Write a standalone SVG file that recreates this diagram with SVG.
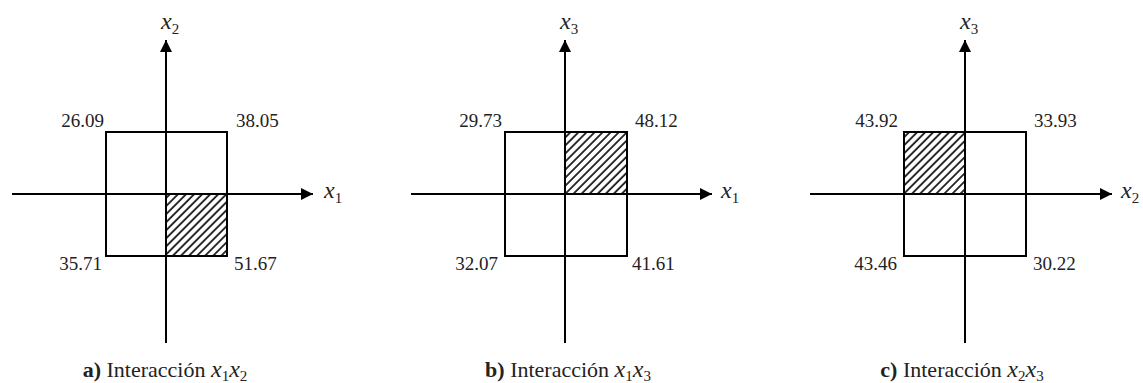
<svg xmlns="http://www.w3.org/2000/svg" width="1143" height="383" viewBox="0 0 1143 383">
<style>
.ax{stroke:#000;stroke-width:2;fill:none}
.sq{stroke:#000;stroke-width:2;fill:none}
text{font-family:'Liberation Serif','Times New Roman','DejaVu Serif',serif;fill:#222}
.num{font-size:19px}
.m{font-style:italic;font-size:24px}
.sub{font-style:normal;font-size:15px}
.cap{font-size:22px}
.capm{font-style:italic;font-size:24px}
</style>
<defs>
<marker id="arr" viewBox="0 0 12 12" refX="12" refY="6" markerWidth="12" markerHeight="12" markerUnits="userSpaceOnUse" orient="auto">
<path d="M0,0 L12,6 L0,12 Z" fill="#000"/>
</marker>
<pattern id="hatch" width="5.7" height="5.7" patternUnits="userSpaceOnUse" patternTransform="rotate(45)">
<rect width="5.7" height="5.7" fill="#fff"/>
<line x1="1" y1="0" x2="1" y2="5.7" stroke="#000" stroke-width="1.6"/>
</pattern>
</defs>
<rect width="1143" height="383" fill="#fff"/>

<g id="panel-a">
<rect x="166" y="194" width="61" height="62" fill="url(#hatch)"/>
<rect class="sq" x="106" y="132" width="121" height="124"/>
<text class="num" x="104" y="127" text-anchor="end">26.09</text>
<text class="num" x="236" y="127">38.05</text>
<text class="num" x="102" y="270" text-anchor="end">35.71</text>
<text class="num" x="234" y="270">51.67</text>
<text class="m" x="161" y="29">x<tspan class="sub" dy="5">2</tspan></text>
<text class="m" x="324" y="198">x<tspan class="sub" dy="5">1</tspan></text>
<text class="cap" x="165" y="377" text-anchor="middle"><tspan font-weight="bold">a)</tspan> Interacción <tspan class="capm">x</tspan><tspan class="sub" dy="4">1</tspan><tspan class="capm" dy="-4">x</tspan><tspan class="sub" dy="4">2</tspan></text>
</g>

<g id="panel-b">
<rect x="565" y="132" width="62" height="62" fill="url(#hatch)"/>
<rect class="sq" x="505" y="132" width="122" height="124"/>
<text class="num" x="502" y="127" text-anchor="end">29.73</text>
<text class="num" x="635" y="127">48.12</text>
<text class="num" x="498" y="270" text-anchor="end">32.07</text>
<text class="num" x="632" y="270">41.61</text>
<text class="m" x="560" y="29">x<tspan class="sub" dy="5">3</tspan></text>
<text class="m" x="721" y="198">x<tspan class="sub" dy="5">1</tspan></text>
<text class="cap" x="568" y="377" text-anchor="middle"><tspan font-weight="bold">b)</tspan> Interacción <tspan class="capm">x</tspan><tspan class="sub" dy="4">1</tspan><tspan class="capm" dy="-4">x</tspan><tspan class="sub" dy="4">3</tspan></text>
</g>

<g id="panel-c">
<rect x="904" y="132" width="61" height="62" fill="url(#hatch)"/>
<rect class="sq" x="904" y="132" width="122" height="124"/>
<text class="num" x="898" y="127" text-anchor="end">43.92</text>
<text class="num" x="1034" y="127">33.93</text>
<text class="num" x="897" y="270" text-anchor="end">43.46</text>
<text class="num" x="1033" y="270">30.22</text>
<text class="m" x="960" y="29">x<tspan class="sub" dy="5">3</tspan></text>
<text class="m" x="1121" y="198">x<tspan class="sub" dy="5">2</tspan></text>
<text class="cap" x="962" y="377" text-anchor="middle"><tspan font-weight="bold">c)</tspan> Interacción <tspan class="capm">x</tspan><tspan class="sub" dy="4">2</tspan><tspan class="capm" dy="-4">x</tspan><tspan class="sub" dy="4">3</tspan></text>
</g>

<g id="connectors">
<line class="ax" x1="12" y1="194" x2="313" y2="194" marker-end="url(#arr)"/>
<line class="ax" x1="166" y1="343" x2="166" y2="40" marker-end="url(#arr)"/>
<line class="ax" x1="411" y1="194" x2="712" y2="194" marker-end="url(#arr)"/>
<line class="ax" x1="565" y1="343" x2="565" y2="40" marker-end="url(#arr)"/>
<line class="ax" x1="810" y1="194" x2="1112" y2="194" marker-end="url(#arr)"/>
<line class="ax" x1="965" y1="343" x2="965" y2="40" marker-end="url(#arr)"/>
</g>
</svg>
